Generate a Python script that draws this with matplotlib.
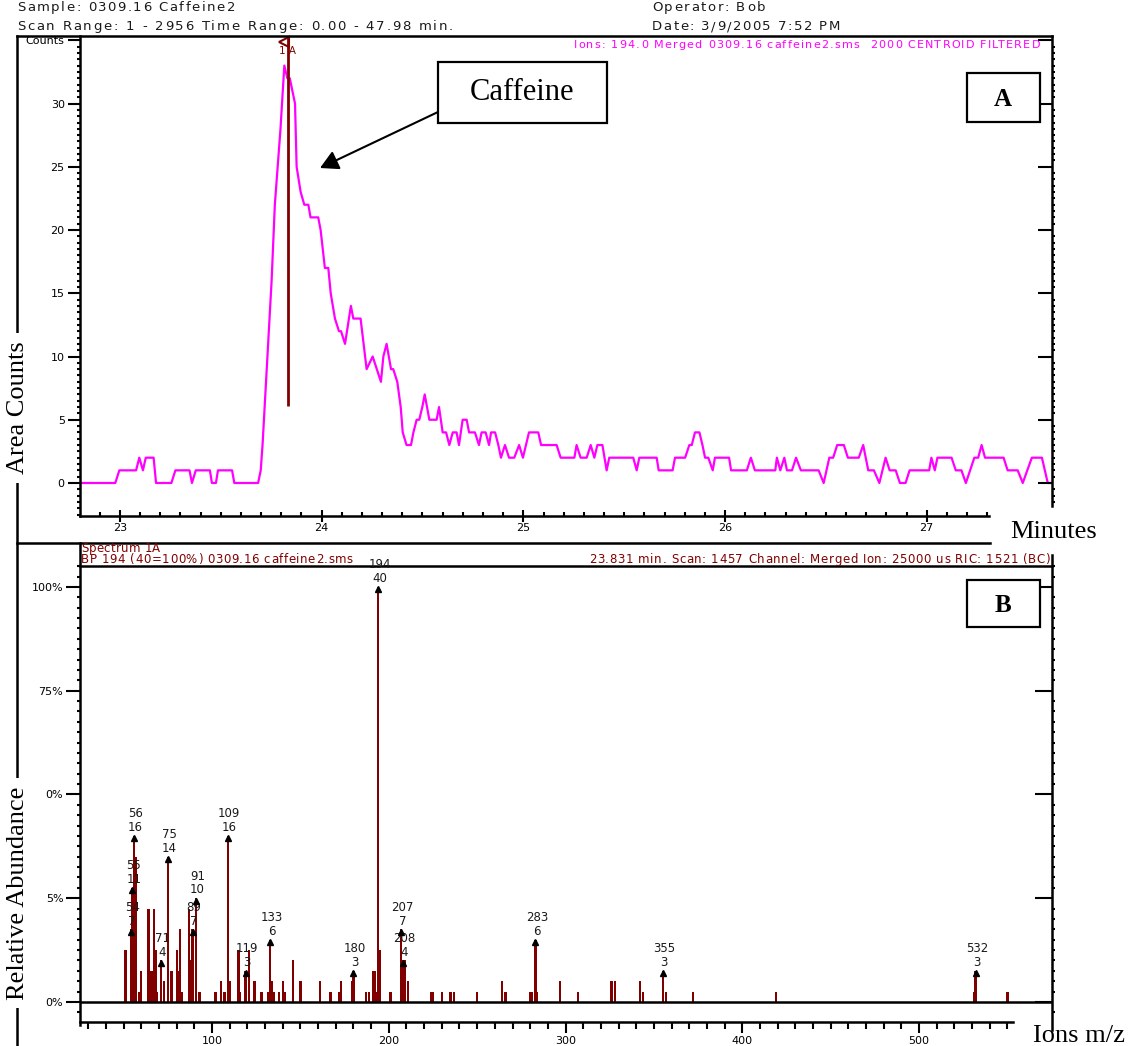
import matplotlib
matplotlib.use("Agg")
import numpy as np
import matplotlib.pyplot as plt
from matplotlib.font_manager import FontProperties
from matplotlib.lines import Line2D
from matplotlib.patches import Rectangle
from matplotlib.ticker import FixedLocator

# ion 194 chromatogram (minutes, counts)
time_min = [22.802, 22.977, 22.997, 23.080, 23.096, 23.114, 23.128, 23.167, 23.179, 23.255,
            23.275, 23.345, 23.357, 23.376, 23.446, 23.456, 23.476, 23.486, 23.556, 23.567,
            23.685, 23.698, 23.707, 23.752, 23.768, 23.796, 23.815, 23.830, 23.842, 23.868,
            23.876, 23.896, 23.914, 23.934, 23.945, 23.983, 23.995, 24.016, 24.033, 24.045,
            24.066, 24.086, 24.096, 24.116, 24.145, 24.157, 24.193, 24.223, 24.253, 24.294,
            24.306, 24.322, 24.344, 24.355, 24.375, 24.392, 24.402, 24.421, 24.443, 24.455,
            24.471, 24.484, 24.499, 24.511, 24.534, 24.570, 24.582, 24.600, 24.617, 24.633,
            24.650, 24.669, 24.681, 24.699, 24.719, 24.731, 24.760, 24.780, 24.793, 24.813,
            24.830, 24.840, 24.860, 24.876, 24.889, 24.909, 24.929, 24.955, 24.979, 24.998,
            25.028, 25.074, 25.088, 25.165, 25.185, 25.253, 25.264, 25.284, 25.314, 25.334,
            25.352, 25.367, 25.392, 25.413, 25.426, 25.545, 25.562, 25.575, 25.661, 25.671,
            25.740, 25.752, 25.802, 25.823, 25.835, 25.851, 25.873, 25.888, 25.901, 25.917,
            25.939, 25.950, 26.020, 26.030, 26.108, 26.128, 26.148, 26.249, 26.257, 26.274,
            26.294, 26.307, 26.332, 26.352, 26.376, 26.464, 26.489, 26.517, 26.536, 26.556,
            26.589, 26.609, 26.663, 26.685, 26.710, 26.738, 26.765, 26.796, 26.816, 26.846,
            26.867, 26.895, 26.915, 27.012, 27.023, 27.040, 27.053, 27.123, 27.144, 27.172,
            27.194, 27.236, 27.255, 27.272, 27.289, 27.381, 27.401, 27.451, 27.476, 27.521,
            27.571, 27.600, 27.621]
counts = [0, 0, 1, 1, 2, 1, 2, 2, 0, 0,
          1, 1, 0, 1, 1, 0, 0, 1, 1, 0,
          0, 1, 3, 16, 22, 28, 33, 32, 32, 30,
          25, 23, 22, 22, 21, 21, 20, 17, 17, 15,
          13, 12, 12, 11, 14, 13, 13, 9, 10, 8,
          10, 11, 9, 9, 8, 6, 4, 3, 3, 4,
          5, 5, 6, 7, 5, 5, 6, 4, 4, 3,
          4, 4, 3, 5, 5, 4, 4, 3, 4, 4,
          3, 4, 4, 3, 2, 3, 2, 2, 3, 2,
          4, 4, 3, 3, 2, 2, 3, 2, 2, 3,
          2, 3, 3, 1, 2, 2, 1, 2, 2, 1,
          1, 2, 2, 3, 3, 4, 4, 3, 2, 2,
          1, 2, 2, 1, 1, 2, 1, 1, 2, 1,
          2, 1, 1, 2, 1, 1, 0, 2, 2, 3,
          3, 2, 2, 3, 1, 1, 0, 2, 1, 1,
          0, 0, 1, 1, 2, 1, 2, 2, 1, 1,
          0, 2, 2, 3, 2, 2, 1, 1, 0, 2,
          2, 0, 0]
spectrum_time = 23.831

# spectrum 1A: m/z and ion counts (base peak 194 = 40 counts = 100%)
mz = [51, 54, 55, 56, 57, 59, 60, 64, 65, 66, 67, 68, 69, 71, 73, 75, 77, 80, 81, 82,
      83, 87, 88, 89, 91, 93, 102, 105, 107, 109, 110, 115, 116, 119, 121, 124, 128, 132,
      133, 134, 135, 138, 140, 141, 146, 150, 161, 167, 172, 173, 179, 180, 187, 189, 191,
      192, 193, 194, 195, 201, 207, 208, 209, 211, 224, 225, 230, 235, 237, 250, 264, 266,
      280, 281, 283, 284, 297, 307, 326, 328, 342, 344, 355, 357, 372, 419, 531, 532, 550]
ion_counts = [5, 7, 11, 16, 14, 1, 3, 9, 3, 3, 9, 5, 1, 4, 2, 14, 3, 5, 3, 7,
              1, 9, 4, 7, 10, 1, 1, 2, 1, 16, 2, 5, 1, 3, 5, 2, 1, 1,
              6, 2, 1, 1, 2, 1, 4, 2, 2, 1, 1, 2, 2, 3, 1, 1, 3,
              3, 1, 40, 5, 1, 7, 4, 4, 2, 1, 1, 1, 1, 1, 1, 2, 1,
              1, 1, 6, 1, 2, 1, 2, 2, 2, 1, 3, 1, 1, 1, 1, 3, 1]
base_counts = 40
labelled_mz = [54, 55, 56, 71, 75, 89, 91, 109, 119, 133, 180, 194, 207, 208, 283, 355, 532]

rel_abundance = [c / base_counts * 100 for c in ion_counts]

MAGENTA = "#ff00ff"
DARKRED = "#800000"
INK = "#1a1a1a"
SERIF = "Liberation Serif"

W, H = 1128, 1046
fig = plt.figure(figsize=(W / 100, H / 100), dpi=100)
renderer = fig.canvas.get_renderer()


def fig_xy(x, y):
    return x / W, 1 - y / H


def fig_line(x0, y0, x1, y1):
    fig.add_artist(Line2D([x0 / W, x1 / W], [1 - y0 / H, 1 - y1 / H],
                          transform=fig.transFigure, color="black", lw=1.8))


def fig_box(x0, y0, x1, y1):
    fig.add_artist(Rectangle(fig_xy(x0, y1), (x1 - x0) / W, (y1 - y0) / H,
                             transform=fig.transFigure, facecolor="white",
                             edgecolor="black", lw=1.6, zorder=5))


def spread_text(x0, x1, y, s, size, color=INK):
    # letter-spaced text: spreads the glyphs of s evenly between x0 and x1 (pixels)
    prop = FontProperties(family="DejaVu Sans", size=size)

    def width(t):
        return renderer.get_text_width_height_descent(t, prop, ismath=False)[0]

    gap = (x1 - x0 - width(s)) / (len(s) - 1)
    for i, ch in enumerate(s):
        if ch == " ":
            continue
        left = width(s[:i + 1]) - width(ch) + i * gap
        fig.text(*fig_xy(x0 + left, y), ch, fontproperties=prop, color=color,
                 va="baseline")


# ---------------- chromatogram ----------------
ax1 = fig.add_axes([80 / W, 1 - 516 / H, 972 / W, 480 / H])
ax1.plot(time_min, counts, color=MAGENTA, lw=1.6)
ax1.set_xlim(22.802, 27.621)
ax1.set_ylim(-2.61, 35.34)

ax1.vlines(spectrum_time, 6.1, 35.3, color=DARKRED, lw=2)
ax1.plot(spectrum_time - 0.018, 34.9, marker="<", ms=7, mfc="none", mec=DARKRED, mew=1.5,
         clip_on=False)
ax1.text(spectrum_time, 34.15, "1 A", color=DARKRED, fontsize=7.5, ha="center", va="center")

for side in ["top", "right"]:
    ax1.spines[side].set_visible(False)
for side in ["left", "bottom"]:
    ax1.spines[side].set_linewidth(1.8)
ax1.spines["bottom"].set_bounds(22.802, 27.31)

ax1.set_xticks([23, 24, 25, 26, 27])
ax1.xaxis.set_minor_locator(FixedLocator(np.round(np.arange(22.9, 27.35, 0.1), 2)))
ax1.tick_params(axis="x", which="major", direction="inout", length=8, width=1.5,
                labelsize=8, pad=1)
ax1.tick_params(axis="x", which="minor", direction="in", length=3, width=1.5)
ax1.set_yticks(range(0, 36, 5))
ax1.set_yticklabels(["0", "5", "10", "15", "20", "25", "30", "Counts"])
ax1.yaxis.set_minor_locator(FixedLocator(np.arange(-2.5, 35.5, 0.5)))
ax1.tick_params(axis="y", which="major", direction="out", length=9, width=1.5,
                labelsize=8, pad=2)
ax1.tick_params(axis="y", which="minor", direction="out", length=2.5, width=1.5)

ax1r = ax1.twinx()
ax1r.set_ylim(ax1.get_ylim())
for side in ["top", "left", "bottom"]:
    ax1r.spines[side].set_visible(False)
ax1r.spines["right"].set_linewidth(1.8)
ax1r.spines["right"].set_bounds(-1.8, 35.34)
ax1r.set_yticks(range(0, 36, 5))
ax1r.yaxis.set_minor_locator(FixedLocator(np.arange(-1.5, 35.5, 0.5)))
ax1r.tick_params(axis="y", which="major", direction="in", length=10, width=1.5,
                 labelright=False)
ax1r.tick_params(axis="y", which="minor", direction="out", length=2.5, width=1.5)

# ---------------- mass spectrum ----------------
ax2 = fig.add_axes([80 / W, 1 - 1022 / H, 972 / W, 456 / H])
ax2.bar(mz, rel_abundance, width=1.3, color=DARKRED, linewidth=0)
ax2.axhline(0, color="black", lw=1.8, zorder=3)
ax2.set_xlim(25.32, 575.2)
ax2.set_ylim(-4.82, 105.06)

for m, pct, c in zip(mz, rel_abundance, ion_counts):
    if m not in labelled_mz:
        continue
    ax2.plot(m, pct - 0.6, marker="^", ms=5, color="black", ls="none", zorder=4)
    ax2.annotate(str(c), xy=(m, pct), xytext=(1, 6), textcoords="offset points",
                 ha="center", va="center", fontsize=8.5, color=INK)
    ax2.annotate(str(m), xy=(m, pct), xytext=(1, 16), textcoords="offset points",
                 ha="center", va="center", fontsize=8.5, color=INK)

ax2.spines["right"].set_visible(False)
for side in ["left", "bottom", "top"]:
    ax2.spines[side].set_linewidth(1.8)
ax2.spines["left"].set_bounds(-5.5, 110.6)
ax2.spines["bottom"].set_bounds(25.32, 553.3)

ax2.set_xticks([100, 200, 300, 400, 500])
ax2.xaxis.set_minor_locator(FixedLocator(np.arange(30, 551, 10)))
ax2.tick_params(axis="x", which="major", direction="out", length=8, width=1.5,
                labelsize=8, pad=2)
ax2.tick_params(axis="x", which="minor", direction="out", length=5, width=1.5)
ax2.set_yticks([0, 25, 50, 75, 100])
ax2.set_yticklabels(["0%", "5%", "0%", "75%", "100%"])
ax2.yaxis.set_minor_locator(FixedLocator(np.arange(-5, 108, 2.5)))
ax2.tick_params(axis="y", which="major", direction="out", length=10, width=1.5,
                labelsize=8, pad=2)
ax2.tick_params(axis="y", which="minor", direction="out", length=2.5, width=1.5)

ax2r = ax2.twinx()
ax2r.set_ylim(ax2.get_ylim())
for side in ["top", "left", "bottom"]:
    ax2r.spines[side].set_visible(False)
ax2r.spines["right"].set_linewidth(1.8)
ax2r.spines["right"].set_bounds(-6.75, 107.7)
ax2r.set_yticks([0, 25, 50, 75, 100])
ax2r.yaxis.set_minor_locator(FixedLocator(np.arange(-5, 107.6, 2.5)))
ax2r.tick_params(axis="y", which="major", direction="in", length=12, width=1.5,
                 labelright=False)
ax2r.tick_params(axis="y", which="minor", direction="out", length=2.5, width=1.5)

# ---------------- page frame and header ----------------
fig_line(17, 36, 17, 1046)
fig_line(17, 36, 1052, 36)
fig_line(17, 543, 990, 543)

spread_text(17, 235, 11, "Sample: 0309.16 Caffeine2", 9.5)
spread_text(652, 765, 11, "Operator: Bob", 9.5)
spread_text(17, 453, 30, "Scan Range: 1 - 2956 Time Range: 0.00 - 47.98 min.", 9.5)
spread_text(652, 840, 30, "Date: 3/9/2005 7:52 PM", 9.5)
spread_text(574, 1040, 48, "Ions: 194.0 Merged 0309.16 caffeine2.sms  2000 CENTROID FILTERED",
            8, color=MAGENTA)

spread_text(81, 160, 552, "Spectrum 1A", 8.5, color=DARKRED)
spread_text(81, 353, 563, "BP 194 (40=100%) 0309.16 caffeine2.sms", 8.5, color=DARKRED)
spread_text(589, 1050, 563,
            "23.831 min. Scan: 1457 Channel: Merged Ion: 25000 us RIC: 1521 (BC)", 8.5,
            color=DARKRED)

# annotation boxes
fig_box(438, 62, 607, 123)
fig.text(*fig_xy(522, 92), "Caffeine", fontsize=22, family=SERIF, ha="center", va="center",
         zorder=6)
fig_box(967, 73, 1040, 122)
fig.text(*fig_xy(1003, 99), "A", fontsize=18, family=SERIF, weight="bold", ha="center",
         va="center", zorder=6)
fig_box(967, 580, 1040, 627)
fig.text(*fig_xy(1003, 605), "B", fontsize=18, family=SERIF, weight="bold", ha="center",
         va="center", zorder=6)

ax1.annotate("", xy=fig_xy(320, 168), xycoords="figure fraction",
             xytext=fig_xy(438, 112), textcoords="figure fraction",
             arrowprops=dict(arrowstyle="-|>,head_length=0.55,head_width=0.3",
                             color="black", lw=1.5, mutation_scale=20,
                             shrinkA=0, shrinkB=0))

# axis titles
fig.text(*fig_xy(1010, 532), "Minutes", fontsize=19, family=SERIF, va="center")
fig.text(*fig_xy(1033, 1036), "Ions m/z", fontsize=19, family=SERIF, va="center")
fig.text(*fig_xy(18, 408), "Area Counts", fontsize=19, family=SERIF, rotation=90,
         ha="center", va="center",
         bbox=dict(facecolor="white", edgecolor="none", pad=6))
fig.text(*fig_xy(18, 893), "Relative Abundance", fontsize=19, family=SERIF, rotation=90,
         ha="center", va="center",
         bbox=dict(facecolor="white", edgecolor="none", pad=6))

fig.savefig("out.png", dpi=100)
